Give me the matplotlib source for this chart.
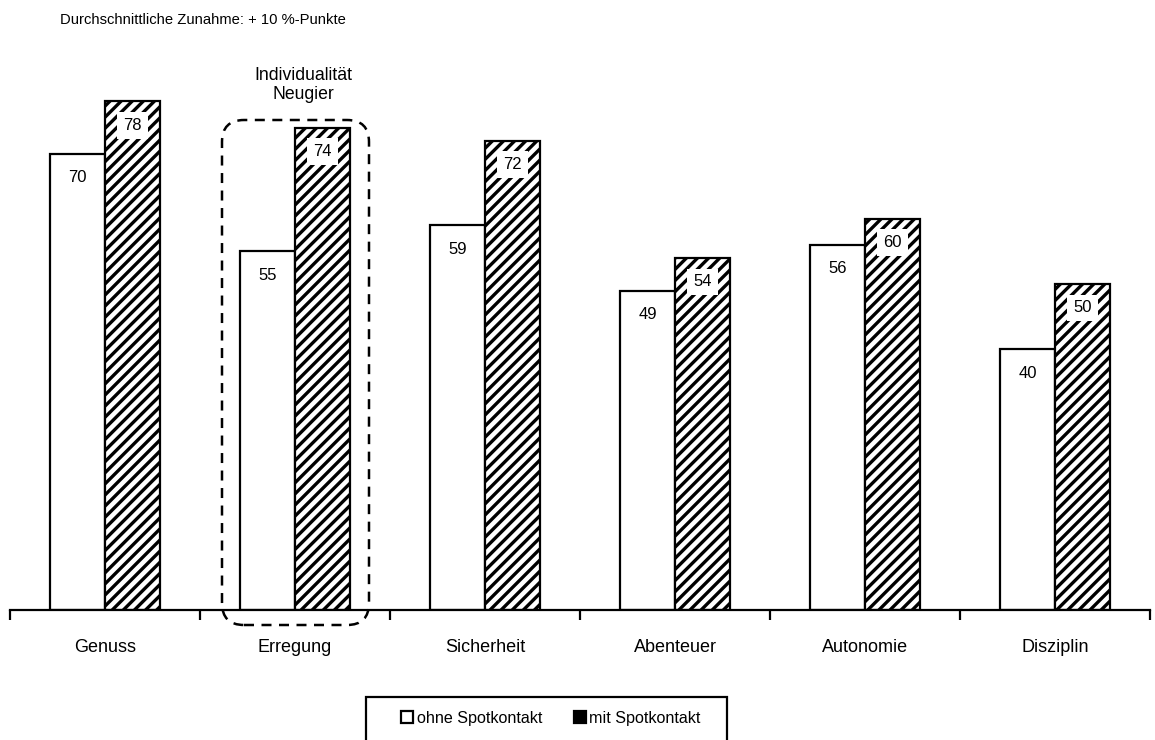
import matplotlib
matplotlib.use("Agg")
import matplotlib.pyplot as plt
from matplotlib.patches import FancyBboxPatch, Rectangle, Patch
import numpy as np

categories = ["Genuss", "Erregung", "Sicherheit", "Abenteuer", "Autonomie", "Disziplin"]
ohne = [70, 55, 59, 49, 56, 40]
mit = [78, 74, 72, 54, 60, 50]
series_names = ["ohne Spotkontakt", "mit Spotkontakt"]
title_text = "Durchschnittliche Zunahme: + 10 %-Punkte"
box_note = "Individualität\nNeugier"

plt.rcParams['font.family'] = ['Liberation Sans', 'DejaVu Sans']
plt.rcParams['hatch.linewidth'] = 2.4

W, H = 1155, 740
fig = plt.figure(figsize=(W/100, H/100), dpi=100)
ax_left, ax_right = 10, 1150
ax_bottom_px = 610
ymax = 90
px_per_unit = 6.52
ax_top_px = ax_bottom_px - ymax * px_per_unit
ax = fig.add_axes([ax_left/W, 1 - ax_bottom_px/H, (ax_right-ax_left)/W, (ax_bottom_px-ax_top_px)/H])
ax.set_xlim(-0.5, len(categories) - 0.5)
ax.set_ylim(0, ymax)

x = np.arange(len(categories))
bw = 0.29
ax.bar(x - bw/2, ohne, width=bw, color='white', edgecolor='black', linewidth=1.6, zorder=2)
ax.bar(x + bw/2, mit, width=bw, color='white', edgecolor='black', hatch='///', linewidth=1.6, zorder=2)

off = 24 / px_per_unit
for xi, v in zip(x, ohne):
    ax.text(xi - bw/2, v - off, f"{v}", ha='center', va='center', fontsize=12, zorder=3)
for xi, v in zip(x, mit):
    ax.text(xi + bw/2, v - off, f"{v}", ha='center', va='center', fontsize=12, zorder=3,
            bbox=dict(boxstyle='square,pad=0.35', facecolor='white', edgecolor='none'))

for s in ['top', 'right', 'left']:
    ax.spines[s].set_visible(False)
ax.spines['bottom'].set_linewidth(1.6)
ax.set_yticks([])
ax.set_xticks(x)
ax.set_xticklabels(categories, fontsize=13)
ax.tick_params(axis='x', which='major', length=0, pad=21)
ax.set_xticks(np.arange(-0.5, len(categories)), minor=True)
ax.tick_params(axis='x', which='minor', length=7, width=1.6, direction='out')

# dashed rounded box around Erregung
px_x = (ax_right - ax_left) / len(categories)
def dx(p):
    return (p - ax_left) / px_x - 0.5
def dy(p):
    return (ax_bottom_px - p) / px_per_unit
x0, x1 = dx(222), dx(369)
y0, y1 = dy(625), dy(120)
r = 22 / px_x
box = FancyBboxPatch((x0, y0), x1 - x0, y1 - y0,
                     boxstyle=f"round,pad=0,rounding_size={r}",
                     mutation_aspect=(22/px_per_unit)/r,
                     facecolor='none', edgecolor='black', linewidth=1.8,
                     linestyle=(0, (4, 3)), clip_on=False, zorder=4)
ax.add_patch(box)
ax.text(dx(303), dy(85), box_note, ha='center', va='center', fontsize=12.7, linespacing=1.15)

fig.text(60/W, 1 - 20/H, title_text, ha='left', va='center', fontsize=10.6)

# legend frame (cut off at bottom)
fig.patches.append(Rectangle((366/W, -0.05), (727-366)/W, (1 - 697/H) + 0.05,
                             transform=fig.transFigure, facecolor='white',
                             edgecolor='black', linewidth=1.6))
handles = [Patch(facecolor='white', edgecolor='black', linewidth=1.6),
           Patch(facecolor='black', edgecolor='black', linewidth=1.6)]
fig.legend(handles, series_names, loc='center', bbox_to_anchor=(551/W, 1 - 718/H),
           ncol=2, frameon=False, fontsize=11.6, handlelength=0.75, handleheight=0.75,
           handletextpad=0.2, columnspacing=2.0)

fig.savefig("out.png", dpi=100)
